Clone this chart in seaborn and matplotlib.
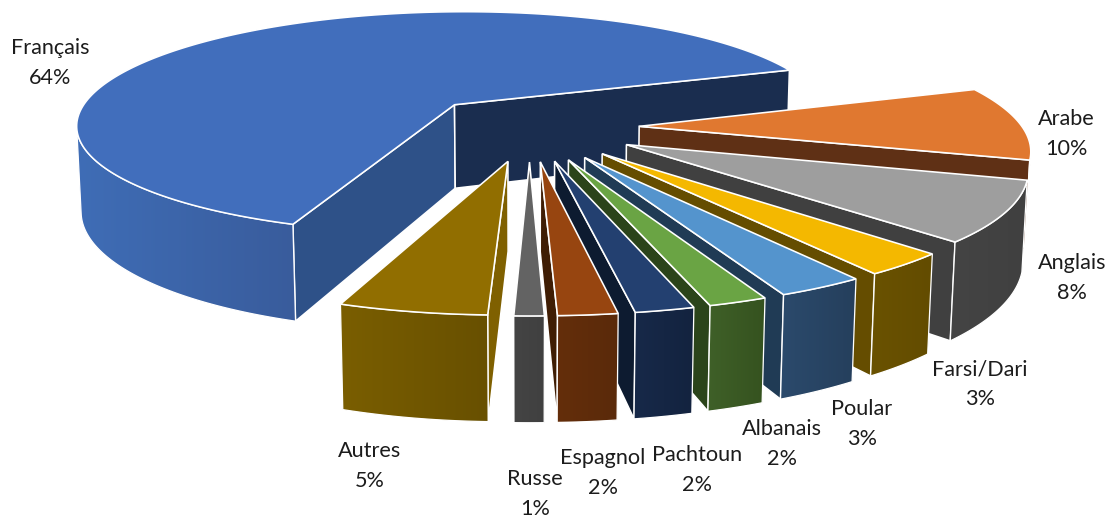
import numpy as np
import matplotlib
matplotlib.use("Agg")
import matplotlib.pyplot as plt
from matplotlib.patches import Polygon
import seaborn as sns

# Language shares (percent)
languages = ["Français", "Arabe", "Anglais", "Farsi/Dari", "Poular",
             "Albanais", "Pachtoun", "Espagnol", "Russe", "Autres"]
shares = [64, 10, 8, 3, 3, 2, 2, 2, 1, 5]

# Colours of each slice: upper surface, cut faces, rim gradient
top_colors = ["#416EBC", "#E07830", "#9E9E9E", "#F4B800", "#5494CD",
              "#6AA444", "#234070", "#974510", "#636363", "#916E00"]
start_face_colors = ["#2E5188", "#5F3015", "#404040", "#654D00", "#203B55",
                     "#2B441A", "#0D1B30", "#3F1D04", "#404040", "#7F6000"]
end_face_colors = ["#1A2D4F", "#5F3015", "#404040", "#654D00", "#203B55",
                   "#2B441A", "#0D1B30", "#3F1D04", "#404040", "#7F6000"]
rim_left_colors = ["#3F6DB6", "#6A3518", "#444444", "#6A5200", "#2B4A6C",
                   "#3F6028", "#172949", "#642E0B", "#444444", "#7A5E00"]
rim_right_colors = ["#395C9C", "#5F3015", "#404040", "#634C00", "#253F5C",
                    "#35521F", "#13233F", "#5A2A0A", "#404040", "#685000"]

# Label anchor points, in figure pixels
label_xy = [(50, 63), (1066, 134), (1072, 278), (980, 384), (862, 424),
            (782, 444), (697, 470), (603, 473), (535, 494), (370, 466)]

# Camera and pie geometry (unit radius)
CX, CY = 529.58, 127.35
FX, FY = 2223.9, 2470.4
DIST, TILT = 5.8025, 0.2743
FIRST_ANGLE = 4.366
EXPLODE = 0.2865
THICK = 0.2121
EDGE_LW = 1.15


def project(x, y, z):
    """Perspective view of a ground-plane point at height z."""
    v = y * np.sin(TILT) + z * np.cos(TILT)
    w = DIST + y * np.cos(TILT) - z * np.sin(TILT)
    return CX + FX * x / w, CY - FY * v / w


def signed_area(pts):
    p = np.asarray(pts)
    q = np.roll(p, -1, axis=0)
    return float(np.sum(p[:, 0] * q[:, 1] - q[:, 0] * p[:, 1]))


sns.set_theme(style="white")
plt.rcParams["font.family"] = ["Lato", "DejaVu Sans"]

fig = plt.figure(figsize=(11.10, 5.19), dpi=100)
ax = fig.add_axes([0, 0, 1, 1])
ax.axis("off")

fractions = np.cumsum([0] + shares) / sum(shares) * 2 * np.pi
z_level = 1

for i, name in enumerate(languages):
    a0 = FIRST_ANGLE - fractions[i]
    a1 = FIRST_ANGLE - fractions[i + 1]
    mid = (a0 + a1) / 2
    ox, oy = EXPLODE * np.cos(mid), EXPLODE * np.sin(mid)

    n = max(12, int(abs(a0 - a1) * 90))
    angles = np.linspace(a0, a1, n + 1)
    arc_x = ox + np.cos(angles)
    arc_y = oy + np.sin(angles)
    tx, ty = project(arc_x, arc_y, 0.0)
    bx, by = project(arc_x, arc_y, -THICK)
    apex_top = project(ox, oy, 0.0)
    apex_bot = project(ox, oy, -THICK)

    # Flat cut faces, when they turn towards the viewer
    start_face = [apex_top, (tx[0], ty[0]), (bx[0], by[0]), apex_bot]
    end_face = [apex_top, (tx[-1], ty[-1]), (bx[-1], by[-1]), apex_bot]
    if signed_area(start_face) < 0:
        ax.add_patch(Polygon(start_face, closed=True, fc=start_face_colors[i],
                             ec="white", lw=EDGE_LW, zorder=z_level))
    if signed_area(end_face) > 0:
        ax.add_patch(Polygon(end_face, closed=True, fc=end_face_colors[i],
                             ec="white", lw=EDGE_LW, zorder=z_level))

    # Curved rim: a left-to-right gradient clipped to the visible band
    visible = []
    for k in range(n):
        quad = [(tx[k], ty[k]), (tx[k + 1], ty[k + 1]),
                (bx[k + 1], by[k + 1]), (bx[k], by[k])]
        if signed_area(quad) < 0:
            visible.append(k)
    if visible:
        first, last = visible[0], visible[-1] + 1
        outline = list(zip(tx[first:last + 1], ty[first:last + 1])) + \
            list(zip(bx[first:last + 1][::-1], by[first:last + 1][::-1]))
        band = np.array(outline)
        ramp = sns.blend_palette([rim_left_colors[i], rim_right_colors[i]], 128)
        gradient = np.array(ramp)[np.newaxis, :, :]
        image = ax.imshow(gradient, aspect="auto", interpolation="bilinear",
                          extent=[band[:, 0].min(), band[:, 0].max(),
                                  band[:, 1].max(), band[:, 1].min()],
                          zorder=z_level + 0.1)
        image.set_clip_path(Polygon(outline, closed=True, transform=ax.transData))
        ax.add_patch(Polygon(outline, closed=True, fc="none", ec="white",
                             lw=EDGE_LW * 0.8, zorder=z_level + 0.2))

    # Upper surface
    top = [apex_top] + list(zip(tx, ty))
    ax.add_patch(Polygon(top, closed=True, fc=top_colors[i], ec="white",
                         lw=EDGE_LW, zorder=z_level + 0.3))
    z_level += 1

    ax.text(*label_xy[i], f"{name}\n{shares[i]}%", ha="center", va="center",
            fontsize=15.6, color="#1c1c1c", linespacing=1.6, zorder=50)

ax.set_xlim(0, 1110)
ax.set_ylim(519, 0)
fig.savefig("out.png", dpi=100, facecolor="white")
